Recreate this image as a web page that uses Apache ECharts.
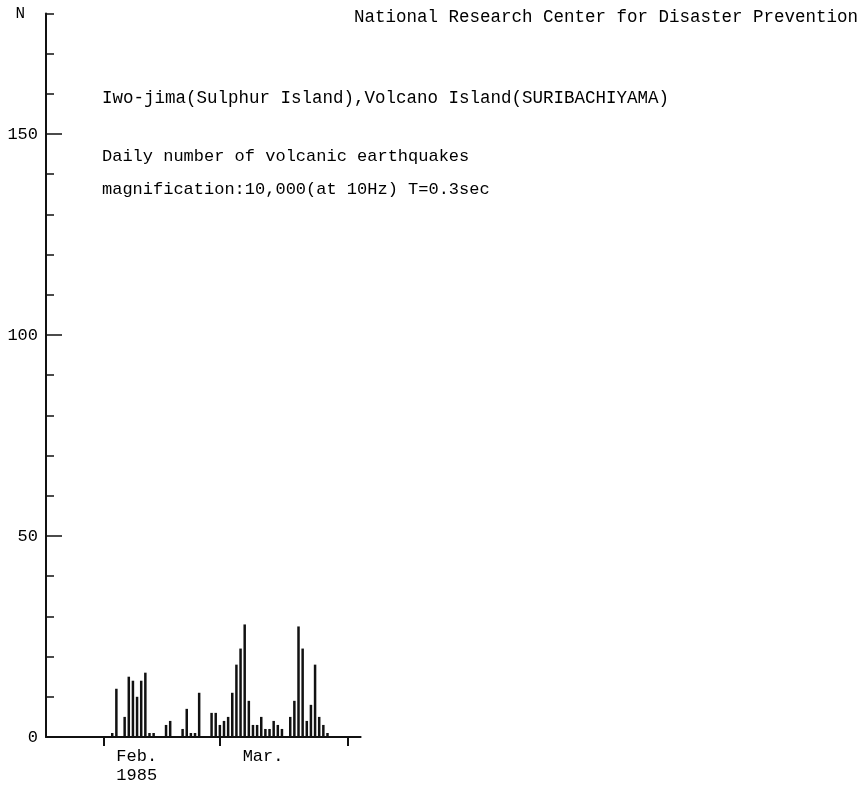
<!DOCTYPE html>
<html>
<head>
<meta charset="utf-8">
<script src="https://cdn.jsdelivr.net/npm/echarts@6/dist/echarts.min.js"></script>
<style>
html,body{margin:0;padding:0;background:#ffffff;}
#chart{width:862px;height:787px;}
</style>
</head>
<body>
<div id="chart"></div>
<script>
// ---- data ----
const dates = [
  '1985-02-03','1985-02-04','1985-02-06','1985-02-07','1985-02-08','1985-02-09','1985-02-10','1985-02-11',
  '1985-02-12','1985-02-13','1985-02-16','1985-02-17','1985-02-20','1985-02-21','1985-02-22','1985-02-23',
  '1985-02-24','1985-02-27','1985-02-28',
  '1985-03-01','1985-03-02','1985-03-03','1985-03-04','1985-03-05','1985-03-06','1985-03-07','1985-03-08',
  '1985-03-09','1985-03-10','1985-03-11','1985-03-12','1985-03-13','1985-03-14','1985-03-15','1985-03-16',
  '1985-03-18','1985-03-19','1985-03-20','1985-03-21','1985-03-22','1985-03-23','1985-03-24','1985-03-25',
  '1985-03-26','1985-03-27'
];
const counts = [
  1, 12, 5, 15, 14, 10, 14, 16,
  1, 1, 3, 4, 2, 7, 1, 1,
  11, 6, 6,
  3, 4, 5, 11, 18, 22, 28, 9,
  3, 3, 5, 2, 2, 4, 3, 2,
  5, 9, 27.5, 22, 4, 8, 18, 5,
  3, 1
];
const monthTickDates = ['1985-02-01', '1985-03-01', '1985-04-01'];
const monthLabels = ['Feb.\n1985', 'Mar.'];
const monthLabelDates = ['1985-02-04 00', '1985-03-06 12'];
const yLabelValues = [0, 50, 100, 150];
const yTopLabel = 'N';
const axisStart = '1985-01-18';
const axisEnd = '1985-04-04';
const headerText = 'National Research Center for Disaster Prevention';
const titleLines = [
  'Iwo-jima(Sulphur Island),Volcano Island(SURIBACHIYAMA)',
  'Daily number of volcanic earthquakes',
  'magnification:10,000(at 10Hz) T=0.3sec'
];

// day number since 1 Jan 1985 (UTC, so no DST issues)
function dayNum(s) {
  const parts = s.split(' ');
  const [y, m, d] = parts[0].split('-').map(Number);
  const h = parts[1] ? Number(parts[1]) : 0;
  return (Date.UTC(y, m - 1, d, h) - Date.UTC(1985, 0, 1)) / 86400000;
}

const FONT = '"Liberation Mono", "DejaVu Sans Mono", monospace';
const INK = '#111111';

const chart = echarts.init(document.getElementById('chart'), null, {renderer: 'canvas'});
const labelPos = monthLabelDates.map(dayNum);

chart.setOption({
  animation: false,
  backgroundColor: '#ffffff',
  grid: {left: 46, right: 501.4, top: 13.4, bottom: 50, containLabel: false, outerBoundsMode: 'none'},
  xAxis: {
    type: 'value',
    min: dayNum(axisStart),
    max: dayNum(axisEnd),
    splitLine: {show: false},
    axisLine: {show: true, onZero: false, lineStyle: {color: INK, width: 2}},
    axisTick: {show: true, customValues: monthTickDates.map(dayNum), length: 9, lineStyle: {color: INK, width: 2}},
    axisLabel: {
      show: true,
      customValues: labelPos,
      showMinLabel: true, showMaxLabel: true,
      hideOverlap: false,
      formatter: function (v) {
        const i = labelPos.indexOf(v);
        return i >= 0 ? monthLabels[i] : '';
      },
      align: 'left',
      verticalAlign: 'top',
      lineHeight: 19,
      margin: 10,
      fontFamily: FONT,
      fontSize: 17,
      color: '#000'
    }
  },
  yAxis: [
    {
      type: 'value', min: 0, max: 180, interval: 10, position: 'left',
      splitLine: {show: false},
      axisLine: {show: true, onZero: false, lineStyle: {color: INK, width: 2}},
      axisTick: {show: true, inside: true, length: 8, lineStyle: {color: INK, width: 1.5}},
      axisLabel: {
        margin: 8,
        showMinLabel: true, showMaxLabel: true, hideOverlap: false,
        fontFamily: FONT, fontSize: 17, color: '#000',
        formatter: function (v) {
          if (yLabelValues.indexOf(v) >= 0) return String(v);
          if (v === 180) return '{n|' + yTopLabel + '}';
          return '';
        },
        rich: {n: {fontFamily: FONT, fontSize: 16, color: '#000', padding: [0, 13, 0, 0]}}
      }
    },
    {
      type: 'value', min: 0, max: 180, interval: 50, position: 'left',
      splitLine: {show: false},
      axisLine: {show: false, onZero: false},
      axisTick: {show: true, inside: true, customValues: yLabelValues, length: 16, lineStyle: {color: INK, width: 1.5}},
      axisLabel: {show: false}
    }
  ],
  series: [{
    type: 'bar',
    xAxisIndex: 0,
    yAxisIndex: 0,
    barWidth: 2.5,
    itemStyle: {color: INK},
    data: dates.map((d, i) => [dayNum(d), counts[i]])
  }],
  graphic: [
    {type: 'text', x: 354, y: 17, style: {text: headerText, font: '17.5px ' + FONT, fill: '#000', verticalAlign: 'middle'}},
    {type: 'text', x: 102, y: 98, style: {text: titleLines[0], font: '17.5px ' + FONT, fill: '#000', verticalAlign: 'middle'}},
    {type: 'text', x: 102, y: 156, style: {text: titleLines[1], font: '17px ' + FONT, fill: '#000', verticalAlign: 'middle'}},
    {type: 'text', x: 102, y: 189, style: {text: titleLines[2], font: '17px ' + FONT, fill: '#000', verticalAlign: 'middle'}}
  ]
});
</script>
</body>
</html>
